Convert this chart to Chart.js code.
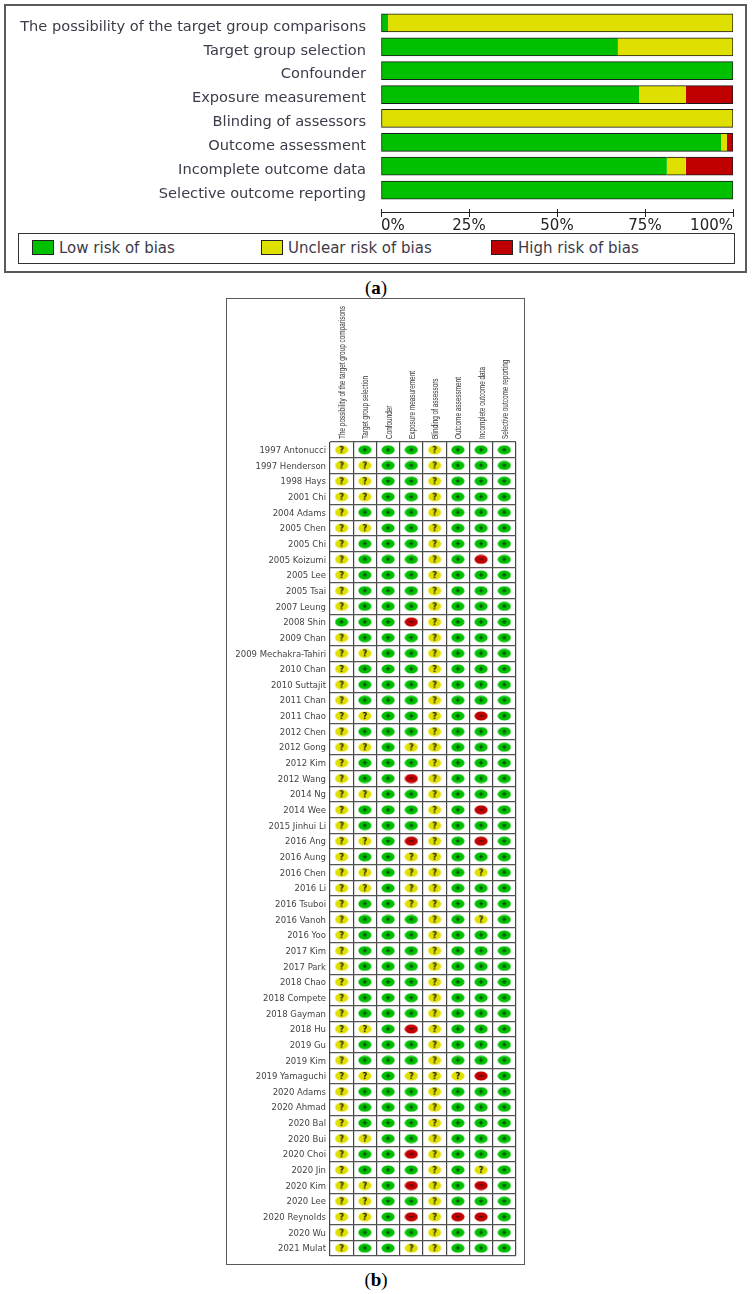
<!DOCTYPE html>
<html>
<head>
<meta charset="utf-8">
<title>Risk of bias</title>
<script src="https://cdn.jsdelivr.net/npm/chart.js@4/dist/chart.umd.min.js"></script>
<style>
    html, body { margin: 0; padding: 0; background: #fff; }
    body { position: relative; width: 752px; height: 1294px; overflow: hidden; }
    canvas { position: absolute; }
    .frame { position: absolute; box-sizing: border-box; border: 2px solid #5a5a5a; }
    #legend-box { position: absolute; box-sizing: border-box; left: 18px; top: 233px; width: 717px; height: 31px; border: 1.5px solid #333; }
    .swatch { position: absolute; top: 240px; width: 22px; height: 15px; box-sizing: border-box; border: 1px solid #222; }
    .legend-text { position: absolute; top: 240px; font: 15px "DejaVu Sans"; color: #3d3a4a; line-height: 17px; white-space: nowrap; }
    .caption { position: absolute; left: 0; width: 752px; text-align: center; font: 19px "Liberation Serif"; color: #000; }
</style>
</head>
<body>
<div class="frame" style="left:4px;top:4px;width:743px;height:269px"></div>
<canvas id="summary" width="752" height="232" style="left:0;top:0"></canvas>
<div id="legend-box"></div>
<div class="caption" style="top:277px">(<b>a</b>)</div>
<div class="frame" style="left:226px;top:298px;width:299px;height:967px;border-width:1.5px"></div>
<canvas id="matrix" width="298" height="965" style="left:226px;top:299px"></canvas>
<div class="caption" style="top:1269px">(<b>b</b>)</div>

<script>
const domains = ['The possibility of the target group comparisons', 'Target group selection', 'Confounder',
    'Exposure measurement', 'Blinding of assessors', 'Outcome assessment', 'Incomplete outcome data',
    'Selective outcome reporting'];

// percentages
const lowRisk = [2, 67.3, 100, 73.3, 0, 96.6, 81.2, 100];
const unclearRisk = [98, 32.7, 0, 13.35, 100, 1.7, 5.4, 0];
const highRisk = [0, 0, 0, 13.35, 0, 1.7, 13.4, 0];
const percentTicks = [0, 25, 50, 75, 100];

const studies = ['1997 Antonucci', '1997 Henderson', '1998 Hays', '2001 Chi', '2004 Adams', '2005 Chen', '2005 Chi',
    '2005 Koizumi', '2005 Lee', '2005 Tsai', '2007 Leung', '2008 Shin', '2009 Chan', '2009 Mechakra-Tahiri',
    '2010 Chan', '2010 Suttajit', '2011 Chan', '2011 Chao', '2012 Chen', '2012 Gong', '2012 Kim', '2012 Wang',
    '2014 Ng', '2014 Wee', '2015 Jinhui Li', '2016 Ang', '2016 Aung', '2016 Chen', '2016 Li', '2016 Tsuboi',
    '2016 Vanoh', '2016 Yoo', '2017 Kim', '2017 Park', '2018 Chao', '2018 Compete', '2018 Gayman', '2018 Hu',
    '2019 Gu', '2019 Kim', '2019 Yamaguchi', '2020 Adams', '2020 Ahmad', '2020 Bal', '2020 Bui', '2020 Choi',
    '2020 Jin', '2020 Kim', '2020 Lee', '2020 Reynolds', '2020 Wu', '2021 Mulat'];

// one string per study, one character per domain
const judgements = ['?+++?+++', '??++?+++', '??++?+++', '??++?+++', '?+++?+++', '??++?+++', '?+++?+++',
    '?+++?+-+', '?+++?+++', '?+++?+++', '?+++?+++', '+++-?+++', '?+++?+++', '??++?+++',
    '?+++?+++', '?+++?+++', '?+++?+++', '??++?+-+', '?+++?+++', '??+??+++', '?+++?+++', '?++-?+++',
    '??++?+++', '?+++?+-+', '?+++?+++', '??+-?+-+', '?++??+++', '??+??+?+', '??+??+++', '?++??+++',
    '?+++?+?+', '?+++?+++', '?+++?+++', '?+++?+++', '?+++?+++', '?+++?+++', '?+++?+++', '??+-?+++',
    '?+++?+++', '?+++?+++', '??+???-+', '?+++?+++', '?+++?+++', '?+++?+++', '??++?+++', '?++-?+++',
    '?+++?+?+', '??+-?+-+', '??++?+++', '??+-?--+', '?+++?+++', '?++??+++'];

const GREEN = '#00c000';
const YELLOW = '#e0e000';
const RED = '#c00000';
const TEXT = '#3d3a4a';

// Legend du panneau (a)
const legendItems = [
    { label: 'Low risk of bias', color: GREEN, x: 32 },
    { label: 'Unclear risk of bias', color: YELLOW, x: 261 },
    { label: 'High risk of bias', color: RED, x: 491 }
];
legendItems.forEach(function(item) {
    const swatch = document.createElement('div');
    swatch.className = 'swatch';
    swatch.style.left = item.x + 'px';
    swatch.style.background = item.color;
    document.body.appendChild(swatch);
    const text = document.createElement('div');
    text.className = 'legend-text';
    text.style.left = (item.x + 27) + 'px';
    text.textContent = item.label;
    document.body.appendChild(text);
});

// outline only around the whole stacked bar, not between segments
function segmentBorder(ctx) {
    const all = ctx.chart.data.datasets;
    let before = 0;
    for (let i = 0; i < ctx.datasetIndex; i++) before += all[i].data[ctx.dataIndex];
    const value = all[ctx.datasetIndex].data[ctx.dataIndex];
    return {
        top: 1,
        bottom: 1,
        left: value > 0 && before === 0 ? 1 : 0,
        right: value > 0 && before + value > 99.9 ? 1 : 0
    };
}

function barDataset(label, data, color) {
    return {
        label: label,
        data: data,
        backgroundColor: color,
        borderColor: '#1a1a1a',
        borderWidth: segmentBorder,
        borderSkipped: false,
        barThickness: 18
    };
}

// the percentage axis sits lower than the plot, its ticks cross the axis line
const detachedAxis = {
    id: 'detachedAxis',
    afterLayout(chart) {
        chart.scales.x.top += 7;
        chart.scales.x.bottom += 7;
    },
    afterDraw(chart) {
        const x = chart.scales.x;
        const c = chart.ctx;
        c.save();
        c.strokeStyle = '#222';
        c.lineWidth = 1;
        c.beginPath();
        c.moveTo(x.getPixelForValue(0), 212.5);
        c.lineTo(x.getPixelForValue(100), 212.5);
        c.stroke();
        c.restore();
    }
};

new Chart(document.getElementById('summary'), {
    type: 'bar',
    data: {
        labels: domains,
        datasets: [
            barDataset('Low risk of bias', lowRisk, GREEN),
            barDataset('Unclear risk of bias', unclearRisk, YELLOW),
            barDataset('High risk of bias', highRisk, RED)
        ]
    },
    plugins: [detachedAxis],
    options: {
        indexAxis: 'y',
        responsive: false,
        animation: false,
        layout: { padding: { top: 11, right: 19 } },
        plugins: { legend: { display: false }, tooltip: { enabled: false } },
        scales: {
            x: {
                stacked: true,
                min: 0,
                max: 100,
                afterBuildTicks(scale) { scale.ticks = percentTicks.map(v => ({ value: v })); },
                afterFit(scale) { scale.height = 30; },
                border: { display: false },
                grid: { drawOnChartArea: false, color: '#222', tickLength: 8 },
                ticks: {
                    align: 'inner',
                    padding: 0,
                    maxRotation: 0,
                    color: '#222',
                    font: { family: 'DejaVu Sans', size: 15 },
                    callback: v => v + '%'
                }
            },
            y: {
                stacked: true,
                afterFit(scale) {
                    scale.width = 381;
                    scale.paddingTop = 0;
                    scale.paddingBottom = 0;
                },
                border: { display: false },
                grid: { display: false },
                ticks: {
                    autoSkip: false,
                    padding: 7,
                    labelOffset: 4,
                    color: TEXT,
                    font: { family: 'DejaVu Sans', size: 14.6 }
                }
            }
        }
    }
});

// Pastilles du panneau (b)
function makeMarker(color, glyph, size) {
    const m = document.createElement('canvas');
    m.width = 14;
    m.height = 10;
    const c = m.getContext('2d');
    c.fillStyle = color;
    c.beginPath();
    c.ellipse(7, 5, 6.6, 4.6, 0, 0, Math.PI * 2);
    c.fill();
    c.fillStyle = '#111';
    c.font = 'bold ' + size + 'px "DejaVu Sans"';
    c.textAlign = 'center';
    c.textBaseline = 'middle';
    c.fillText(glyph, 7, 5.5);
    return m;
}

function pointsFor(symbol) {
    const points = [];
    judgements.forEach(function(row, r) {
        row.split('').forEach(function(ch, d) {
            if (ch === symbol) points.push({ x: domains[d], y: studies[r] });
        });
    });
    return points;
}

function markerDataset(label, symbol, marker) {
    return { label: label, data: pointsFor(symbol), pointStyle: marker, pointRadius: 7 };
}

// the rotated domain names are squeezed along their length, as in the reference
const squeezedLabels = {
    id: 'squeezedLabels',
    afterDraw(chart) {
        const x = chart.scales.x;
        const c = chart.ctx;
        domains.forEach(function(name, i) {
            c.save();
            c.translate(x.getPixelForTick(i) + 3.5, x.bottom - 3);
            c.rotate(-Math.PI / 2);
            c.scale(0.712, 1);
            c.font = '9px "Liberation Sans"';
            c.fillStyle = '#333';
            c.fillText(name, 0, 0);
            c.restore();
        });
    }
};

new Chart(document.getElementById('matrix'), {
    type: 'scatter',
    data: {
        datasets: [
            markerDataset('Low risk of bias', '+', makeMarker(GREEN, '+', 7)),
            markerDataset('Unclear risk of bias', '?', makeMarker(YELLOW, '?', 8)),
            markerDataset('High risk of bias', '-', makeMarker(RED, '−', 7))
        ]
    },
    plugins: [squeezedLabels],
    options: {
        responsive: false,
        animation: false,
        layout: { padding: { right: 6, bottom: 5 } },
        plugins: { legend: { display: false }, tooltip: { enabled: false } },
        scales: {
            x: {
                type: 'category',
                labels: domains,
                position: 'top',
                offset: true,
                afterFit(scale) { scale.height = 143; },
                border: { display: false },
                grid: { offset: true, drawTicks: false, color: '#444', lineWidth: 1.2 },
                ticks: { display: false, autoSkip: false }
            },
            y: {
                type: 'category',
                labels: studies,
                offset: true,
                afterFit(scale) {
                    scale.width = 104;
                    scale.paddingTop = 0;
                    scale.paddingBottom = 0;
                },
                border: { display: false },
                grid: { offset: true, drawTicks: false, color: '#555', lineWidth: 1.2 },
                ticks: {
                    autoSkip: false,
                    padding: 4,
                    labelOffset: 1,
                    color: '#444',
                    font: { family: 'DejaVu Sans', size: 8.5 }
                }
            }
        }
    }
});
</script>
</body>
</html>
